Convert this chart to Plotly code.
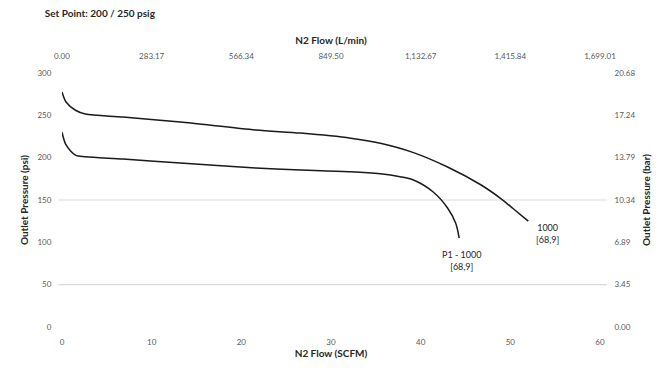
import plotly.graph_objects as go

# Data
p1_flow = [0, 0.45, 1.5, 2.6, 6.8, 13.2, 21.6, 26.6, 32.2, 35.5, 37.7, 39.2, 41.4, 43.0, 43.9, 44.3]
p1_psi = [230, 215, 203, 201, 198.4, 193.7, 187.8, 185.4, 183.5, 181, 177.5, 173.6, 159.4, 140.5, 122.8, 105]

r_flow = [0, 0.45, 1.5, 2.6, 6.8, 13.2, 21.6, 26.6, 32.2, 35.5, 39.2, 43.0, 46.7, 48.9, 50.3, 52.0]
r_psi = [277.5, 265.7, 256, 251.6, 248, 242, 232.7, 229, 223, 217, 206, 189, 168, 152, 140, 125]

x_ticks = [0, 10, 20, 30, 40, 50, 60]
y_ticks = [0, 50, 100, 150, 200, 250, 300]
top_tick_vals = [0.00, 283.17, 566.34, 849.50, 1132.67, 1415.84, 1699.01]
top_tick_text = ["0.00", "283.17", "566.34", "849.50", "1,132.67", "1,415.84", "1,699.01"]
right_tick_vals = [0.00, 3.45, 6.89, 10.34, 13.79, 17.24, 20.68]
right_tick_text = ["0.00", "3.45", "6.89", "10.34", "13.79", "17.24", "20.68"]
grid_lines = [50, 150]

FONT = "Lato"
tick_font = dict(family=FONT, size=8, color="#595959")
title_font = dict(family=FONT, size=10, color="#262626")
line_style = dict(color="#1a1a1a", width=1.5, shape="spline", smoothing=0.8)

fig = go.Figure()
fig.add_trace(go.Scatter(x=p1_flow, y=p1_psi, mode="lines", line=line_style, showlegend=False))
fig.add_trace(go.Scatter(x=r_flow, y=r_psi, mode="lines", line=line_style, showlegend=False))

for g in grid_lines:
    fig.add_shape(type="line", xref="paper", yref="y", x0=-0.007, x1=1.013, y0=g, y1=g,
                  line=dict(color="#d9d9d9", width=1.2), layer="below")

fig.add_annotation(x=44.5, y=79, text="P1 - 1000<br>[68,9]", showarrow=False,
                   font=dict(family=FONT, size=9, color="#262626"))
fig.add_annotation(x=54.2, y=110, text="1000<br>[68,9]", showarrow=False,
                   font=dict(family=FONT, size=9, color="#262626"))

fig.update_layout(
    width=670, height=370,
    margin=dict(l=54, r=78, t=65, b=51, autoexpand=False),
    plot_bgcolor="white", paper_bgcolor="white",
    title=dict(text="<b>Set Point: 200 / 250 psig</b>", x=0.055, xanchor="left", y=0.984, yanchor="middle",
               font=dict(family=FONT, size=10, color="#262626")),
    xaxis=dict(range=[0, 60], tickvals=x_ticks, showgrid=False, zeroline=False, showline=False,
               tickfont=tick_font, ticks="outside", ticklen=7, tickcolor="rgba(0,0,0,0)", automargin=False,
               title=dict(text="<b>N2 Flow (SCFM)</b>", font=title_font, standoff=4)),
    xaxis2=dict(range=[0, 1699.01], overlaying="x", side="top", tickvals=top_tick_vals, ticktext=top_tick_text,
                showgrid=False, zeroline=False, showline=False, tickfont=tick_font, automargin=False,
                ticks="outside", ticklen=10, tickcolor="rgba(0,0,0,0)",
                title=dict(text="<b>N2 Flow (L/min)</b>", font=title_font, standoff=4)),
    yaxis=dict(range=[0, 300], tickvals=y_ticks, showgrid=False, zeroline=False, showline=False,
               tickfont=tick_font, ticks="outside", ticklen=8, tickcolor="rgba(0,0,0,0)", automargin=False,
               title=dict(text="<b>Outlet Pressure (psi)</b>", font=title_font, standoff=6)),
    yaxis2=dict(range=[0, 20.68], overlaying="y", side="right", tickvals=right_tick_vals, ticktext=right_tick_text,
                showgrid=False, zeroline=False, showline=False, tickfont=tick_font, automargin=False,
                ticks="outside", ticklen=12, tickcolor="rgba(0,0,0,0)",
                title=dict(text="<b>Outlet Pressure (bar)</b>", font=title_font, standoff=8)),
)
# invisible trace to activate secondary axes
fig.add_trace(go.Scatter(x=[None], y=[None], xaxis="x2", yaxis="y2", showlegend=False, hoverinfo="skip"))

fig.write_html("out.html")
